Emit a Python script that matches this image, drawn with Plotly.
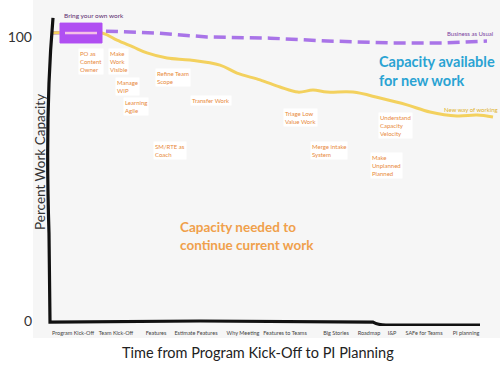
import plotly.graph_objects as go

# ---------------- data ----------------
tick_labels = ["Program Kick-Off", "Team Kick-Off", "Features", "Estimate Features",
               "Why Meeting", "Features to Teams", "Big Stories", "Roadmap", "I&P",
               "SAFe for Teams", "PI planning"]
tick_pos = [73, 116, 156, 196, 243, 285, 336, 369, 392, 424, 466]

# "Business as Usual" capacity (timeline position, percent)
bau_x = [52, 102, 157, 207, 270, 327, 393, 443, 487]
bau_y = [101.4, 102.1, 101.4, 100.0, 99.6, 98.6, 97.9, 97.9, 98.6]

# "New way of working" capacity
new_x = [52, 102, 117, 133, 147, 167, 190, 220, 237, 260, 280, 298, 313, 327, 353,
         380, 407, 430, 457, 477, 493]
new_y = [101.4, 101.4, 98.9, 96.5, 94.4, 92.6, 91.9, 90.1, 87.3, 84.9, 82.4, 80.6,
         81.3, 80.6, 80.6, 78.5, 76.1, 73.6, 72.2, 72.5, 71.8]

# practice notes (text, timeline position, capacity level)
note_text = ["PO as<br>Content<br>Owner", "Make<br>Work<br>Visible", "Manage<br>WIP",
             "Learning<br>Agile", "Refine Team<br>Scope", "Transfer Work",
             "SM/RTE as<br>Coach", "Triage Low<br>Value Work",
             "Understand<br>Capacity<br>Velocity", "Merge intake<br>System",
             "Make<br>Unplanned<br>Planned"]
note_x = [78, 108, 115, 123, 155, 190, 153, 283, 378, 310, 370]
note_y = [91.5, 91.5, 82.7, 75.7, 85.9, 77.5, 60.2, 71.5, 68.7, 60.2, 54.6]

FONT = "Lato, Carlito, Calibri, sans-serif"
ORANGE = "#e8893a"

fig = go.Figure()

fig.add_trace(go.Scatter(x=bau_x, y=bau_y, mode="lines",
                         line=dict(color="#a974e8", width=3.5, dash="12px,6px"),
                         hoverinfo="skip", showlegend=False))
fig.add_trace(go.Scatter(x=new_x, y=new_y, mode="lines",
                         line=dict(color="#f3d15e", width=3, shape="spline"),
                         hoverinfo="skip", showlegend=False))

shapes = [
    # grey canvas
    dict(type="rect", xref="paper", yref="paper", x0=0, x1=1, y0=-0.037, y1=1,
         fillcolor="#f6f6f6", line=dict(width=0), layer="below"),
    # hand drawn axes
    dict(type="path", xref="x", yref="y",
         path="M 53,106.7 Q 45,74 49,31 L 50,-0.4 L 200,0 L 373,-0.4 Q 378,-1.4 386,-1.4 L 480,-1.4",
         line=dict(color="#111111", width=3.2), layer="above"),
    # "bring your own work" box
    dict(type="rect", xref="x", yref="y", x0=60, x1=102, y0=97.9, y1=104.9,
         fillcolor="#b04ff2", line=dict(color="#b04ff2", width=1), layer="above"),
    dict(type="line", xref="x", yref="y", x0=65, x1=97, y0=101.4, y1=101.4,
         line=dict(color="#f5c0e6", width=2.5), layer="above"),
]

annotations = []
for t, x, y in zip(note_text, note_x, note_y):
    annotations.append(dict(x=x, y=y, xref="x", yref="y", text=t, showarrow=False,
                            xanchor="left", yanchor="middle", align="left",
                            font=dict(family=FONT, size=6, color=ORANGE),
                            bgcolor="white", borderpad=1))
annotations += [
    dict(x=62, y=107.7, xref="x", yref="y", text="Bring your own work", showarrow=False,
         xanchor="left", yanchor="middle", font=dict(family=FONT, size=6.5, color="#5b2c6f")),
    dict(x=445, y=101.1, xref="x", yref="y", text="Business as Usual", showarrow=False,
         xanchor="left", yanchor="middle", font=dict(family=FONT, size=6, color="#7a3e9e")),
    dict(x=442, y=74.3, xref="x", yref="y", text="New way of working", showarrow=False,
         xanchor="left", yanchor="middle", font=dict(family=FONT, size=6, color="#e0b22c")),
    dict(x=377, y=88.0, xref="x", yref="y", text="Capacity available<br>for new work",
         showarrow=False, xanchor="left", yanchor="middle", align="left",
         font=dict(family=FONT, size=14.5, color="#2aa3d3", weight="bold")),
    dict(x=178, y=29.9, xref="x", yref="y", text="Capacity needed to<br>continue current work",
         showarrow=False, xanchor="left", yanchor="middle", align="left",
         font=dict(family=FONT, size=13.5, color="#f0a04b", weight="bold")),
    dict(x=40, y=56, xref="x", yref="y", text="Percent Work Capacity", showarrow=False,
         textangle=-90, xanchor="center", yanchor="middle",
         font=dict(family=FONT, size=13.5, color="#333333")),
    dict(x=257.5, y=-0.0798, xref="x", yref="paper",
         text="Time from Program Kick-Off to PI Planning", showarrow=False,
         xanchor="center", yanchor="middle",
         font=dict(family=FONT, size=14.5, color="#222222")),
]

fig.update_layout(
    width=500, height=366,
    margin=dict(l=33, r=0, t=0, b=40),
    paper_bgcolor="white", plot_bgcolor="rgba(0,0,0,0)",
    shapes=shapes, annotations=annotations, showlegend=False,
    xaxis=dict(range=[33, 500], showgrid=False, zeroline=False, showline=False,
               tickmode="array", tickvals=tick_pos, ticktext=tick_labels,
               ticks="", tickfont=dict(family=FONT, size=5.5, color="#444444"),
               ticklabelstandoff=2),
    yaxis=dict(range=[-1.76, 113.03], showgrid=False, zeroline=False, showline=False,
               tickmode="array", tickvals=[0, 100], ticktext=["0", "100"],
               ticks="", tickfont=dict(family=FONT, size=14, color="#333333")),
)

fig.write_html("out.html", config={"displayModeBar": False},
               post_script="document.body.style.margin='0';document.body.style.overflow='hidden';")
